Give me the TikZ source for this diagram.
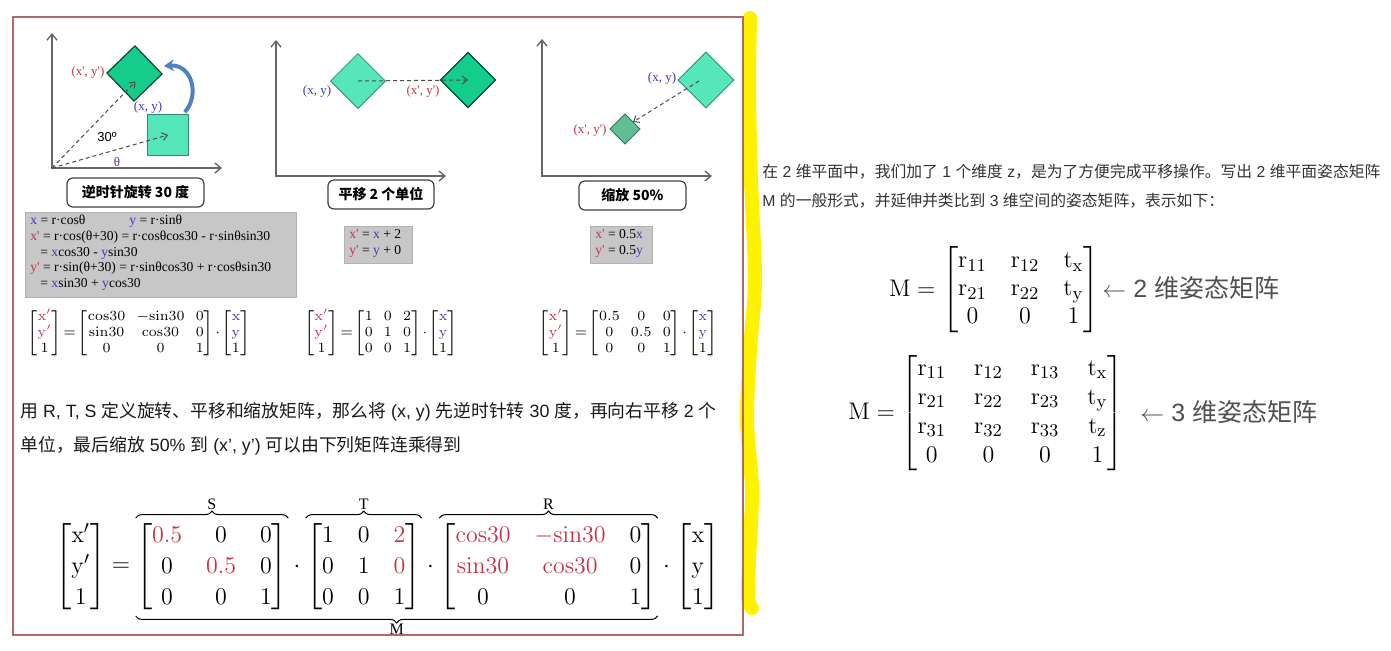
\documentclass[tikz,border=0pt]{standalone}
\usepackage{amsmath}
\usepackage[no-math]{fontspec}
\setmainfont{Liberation Sans}
\newfontfamily\cjk{Noto Sans CJK SC}
\newfontfamily\serif{Liberation Serif}
\usepackage{xcolor}
\usetikzlibrary{arrows.meta,calc,positioning,decorations.pathreplacing}
\definecolor{cred}{RGB}{200,50,70}
\definecolor{cblue}{RGB}{60,60,180}
\definecolor{sqlight}{RGB}{85,230,185}
\definecolor{sqdark}{RGB}{20,205,140}
\definecolor{sqsmall}{RGB}{95,190,150}
\definecolor{framecol}{RGB}{175,105,105}
\definecolor{arcblue}{RGB}{80,130,195}
\definecolor{txtgray}{RGB}{80,80,80}
\newcommand{\rd}[1]{{\color{cred}#1}}
\newcommand{\bl}[1]{{\color{cblue}#1}}
\tikzset{
  axes/.style={draw=black!60,line width=0.7pt,{Straight Barb[length=3pt,width=5pt]}-{Straight Barb[length=3pt,width=5pt]}},
  dasharr/.style={draw=black!70,dash pattern=on 2pt off 1.5pt,line width=0.5pt,-{Straight Barb[length=2.5pt,width=4pt]}},
  light/.style={fill=sqlight,draw=sqlight!60!black,line width=0.4pt,inner sep=0pt},
  dark/.style={fill=sqdark,draw=sqdark!35!black,line width=0.6pt,inner sep=0pt},
  caption/.style={draw=black!75,rounded corners=3pt,line width=0.6pt,font=\cjk\bfseries\fontsize{7}{8}\selectfont},
  graybox/.style={fill=black!22,draw=black!30,line width=0.3pt},
  lbl/.style={font=\serif\fontsize{6.5}{7}\selectfont,inner sep=0pt},
  boxtxt/.style={font=\serif\fontsize{6.8}{7.8}\selectfont,align=left,inner sep=0pt,anchor=north west},
  smallmat/.style={font=\fontsize{7.5}{8}\selectfont,inner sep=0pt,
    execute at begin node={\setlength{\arraycolsep}{2.8pt}\thickmuskip=2mu\medmuskip=1.5mu}},
  para/.style={font=\fontsize{8.9}{10}\selectfont,text=black!90,anchor=west,inner sep=0pt},
  bigm/.style={font=\fontsize{13}{15.5}\selectfont,inner sep=0pt,
    execute at begin node={\setlength{\arraycolsep}{6pt}}},
  brace/.style={decorate,decoration={brace,amplitude=3.5pt},line width=0.5pt},
  bracelbl/.style={font=\serif\fontsize{8}{9}\selectfont,inner sep=0pt},
  rmat/.style={font=\fontsize{12.5}{14}\selectfont,inner sep=0pt,anchor=east},
  rlbl/.style={font=\fontsize{12.5}{14}\selectfont,text=txtgray,anchor=west,inner sep=0pt},
}
\begin{document}
\begin{tikzpicture}[x=0.5pt,y=-0.5pt]
\useasboundingbox (0,0) rectangle (1391,650);
% highlighter and frame
\draw[yellow,line width=7pt,line cap=round,line join=round] plot[smooth] coordinates
  {(750,18) (749,90) (751,180) (755,280) (750,350) (747,420) (752,490) (749,560) (748,598) (752,608)};
\draw[framecol,line width=0.6pt] (13,17) rectangle (743,635);

% rotation
\coordinate (o1) at (52,168);
\draw[axes] (52,33) |- (222,168);
\node[light,minimum size=20.5pt] (src1) at (168,135) {};
\node[dark,minimum size=19.5pt,rotate=44] (dst1) at (134.5,73.5) {};
\draw[dasharr] (o1) -- (src1.center);
\draw[dasharr] (o1) -- ($(dst1.center)+(1,8)$);
\draw[arcblue,line width=2pt,-{Stealth[length=5pt,width=6pt]}] (src1.north east)++(-4,-2) .. controls (200,95) and (192,64) .. (164,66);
\node[lbl,text=cred] (p1) at (88,72) {(x', y')};
\node[lbl,text=cblue] (q1) at (148,107) {(x, y)};
\node[font=\fontsize{6.5}{7}\selectfont] (ang) at (107,137) {30º};
\node[lbl,text=cblue] (th) at (117,162) {θ};
\node[caption,minimum width=68.5pt,minimum height=14.5pt] (cap1) at (135.5,192.5) {逆时针旋转 30 度};

% translation
\draw[axes] (276,40) |- (446,176);
\node[light,minimum size=19.4pt,rotate=45] (src2) at (358,81) {};
\node[dark,minimum size=19.4pt,rotate=45] (dst2) at (468,80) {};
\draw[dasharr] (src2.center) -- (dst2.center);
\node[lbl,text=cblue] (q2) at (317,91) {(x, y)};
\node[lbl,text=cred] (p2) at (423,91) {(x', y')};
\node[caption,minimum width=53pt,minimum height=14.5pt] (cap2) at (381,194.5) {平移 2 个单位};

% scaling
\draw[axes] (542,39) |- (712,176);
\node[light,minimum size=19.8pt,rotate=45] (src3) at (706,80) {};
\node[fill=sqsmall,draw=sqsmall!60!black,line width=0.4pt,inner sep=0pt,minimum size=10.6pt,rotate=45] (dst3) at (625,129) {};
\draw[dasharr] ($(src3.center)+(-7,1)$) -- ($(dst3.center)+(8,-7)$);
\node[lbl,text=cblue] (q3) at (662,78) {(x, y)};
\node[lbl,text=cred] (p3) at (590,130) {(x', y')};
\node[caption,minimum width=53.5pt,minimum height=14.5pt] (cap3) at (632.5,195.5) {缩放 50\%};

% formulas
\draw[graybox] (25,212) rectangle (296,297);
\node[boxtxt] (f1) at (30,215) {\bl{x} = r·cosθ\hspace{22pt}\bl{y} = r·sinθ\\
\rd{x'} = r·cos(θ+30) = r·cosθcos30 - r·sinθsin30\\
\hspace*{5pt}= \bl{x}cos30 - \bl{y}sin30\\
\rd{y'} = r·sin(θ+30) = r·sinθcos30 + r·cosθsin30\\
\hspace*{5pt}= \bl{x}sin30 + \bl{y}cos30};
\draw[graybox] (344,226) rectangle (412,263);
\node[boxtxt] (f2) at (349,229) {\rd{x'} = \bl{x} + 2\\ \rd{y'} = \bl{y} + 0};
\draw[graybox] (590,226) rectangle (652,263);
\node[boxtxt] (f3) at (595,229) {\rd{x'} = 0.5\bl{x}\\ \rd{y'} = 0.5\bl{y}};

\node[smallmat] (mat1) at (139,333) {$\begin{bmatrix}\rd{\mathrm{x}'}\\\rd{\mathrm{y}'}\\1\end{bmatrix}=
\begin{bmatrix}\mathrm{cos30}&-\mathrm{sin30}&0\\\mathrm{sin30}&\mathrm{cos30}&0\\0&0&1\end{bmatrix}\cdot
\begin{bmatrix}\bl{\mathrm{x}}\\\bl{\mathrm{y}}\\1\end{bmatrix}$};
\node[smallmat] (mat2) at (381,333) {$\begin{bmatrix}\rd{\mathrm{x}'}\\\rd{\mathrm{y}'}\\1\end{bmatrix}=
\begin{bmatrix}1&0&2\\0&1&0\\0&0&1\end{bmatrix}\cdot
\begin{bmatrix}\bl{\mathrm{x}}\\\bl{\mathrm{y}}\\1\end{bmatrix}$};
\node[smallmat] (mat3) at (628,333) {$\begin{bmatrix}\rd{\mathrm{x}'}\\\rd{\mathrm{y}'}\\1\end{bmatrix}=
\begin{bmatrix}0.5&0&0\\0&0.5&0\\0&0&1\end{bmatrix}\cdot
\begin{bmatrix}\bl{\mathrm{x}}\\\bl{\mathrm{y}}\\1\end{bmatrix}$};

% paragraph
\node[para] (l1) at (20,412) {{\cjk 用} R, T, S {\cjk 定义旋转、平移和缩放矩阵，那么将} (x, y) {\cjk 先逆时针转} 30 {\cjk 度，再向右平移} 2 {\cjk 个}};
\node[para] (l2) at (20,446) {{\cjk 单位，最后缩放} 50\% {\cjk 到} (x', y') {\cjk 可以由下列矩阵连乘得到}};

% product M = S T R
\node[bigm,anchor=west] (vl) at (55,567) {$\begin{bmatrix}\mathrm{x}'\\\mathrm{y}'\\1\end{bmatrix}$};
\node[bigm,right=2.5pt of vl] (eqs) {$=$};
\node[bigm,right=2.5pt of eqs] (ms) {$\begin{bmatrix}\rd{0.5}&0&0\\0&\rd{0.5}&0\\0&0&1\end{bmatrix}$};
\node[bigm,right=2.5pt of ms] (d1) {$\cdot$};
\node[bigm,right=2.5pt of d1] (mt) {$\begin{bmatrix}1&0&\rd{2}\\0&1&\rd{0}\\0&0&1\end{bmatrix}$};
\node[bigm,right=2.5pt of mt] (d2) {$\cdot$};
\node[bigm,right=2.5pt of d2] (mr) {$\begin{bmatrix}\rd{\mathrm{cos30}}&\rd{-\mathrm{sin30}}&0\\\rd{\mathrm{sin30}}&\rd{\mathrm{cos30}}&0\\0&0&1\end{bmatrix}$};
\node[bigm,right=2.5pt of mr] (d3) {$\cdot$};
\node[bigm,right=2.5pt of d3] (vr) {$\begin{bmatrix}\mathrm{x}\\\mathrm{y}\\1\end{bmatrix}$};
\draw[brace] ([yshift=1pt]ms.north west) -- ([yshift=1pt]ms.north east) node[bracelbl,midway,above=4pt] (ls) {S};
\draw[brace] ([yshift=1pt]mt.north west) -- ([yshift=1pt]mt.north east) node[bracelbl,midway,above=4pt] (lt) {T};
\draw[brace] ([yshift=1pt]mr.north west) -- ([yshift=1pt]mr.north east) node[bracelbl,midway,above=4pt] (lr) {R};
\draw[brace] ([yshift=-1pt]mr.south east) -- ([yshift=-1pt]ms.south west) node[bracelbl,midway,below=4pt] (lm) {M};

% right column
\node[para,font=\fontsize{7.9}{9}\selectfont,text=black!80] (r1) at (762,172) {{\cjk 在} 2 {\cjk 维平面中，我们加了} 1 {\cjk 个维度} z{\cjk ，是为了方便完成平移操作。写出} 2 {\cjk 维平面姿态矩阵}};
\node[para,font=\fontsize{7.9}{9}\selectfont,text=black!80] (r2) at (762,201) {M {\cjk 的一般形式，并延伸并类比到} 3 {\cjk 维空间的姿态矩阵，表示如下：}};

\node[rmat,execute at begin node={\setlength{\arraycolsep}{6pt}}] (mm2) at (1100,290) {$\mathrm{M}=\begin{bmatrix}\mathrm{r}_{11}&\mathrm{r}_{12}&\mathrm{t}_{\mathrm{x}}\\\mathrm{r}_{21}&\mathrm{r}_{22}&\mathrm{t}_{\mathrm{y}}\\0&0&1\end{bmatrix}$};
\node[rlbl] (n2) at (1102,288) {$\leftarrow$ 2 {\cjk 维姿态矩阵}};
\node[rmat,font=\fontsize{12.5}{14.5}\selectfont,execute at begin node={\setlength{\arraycolsep}{7pt}}] (mm3) at (1124,413) {$\mathrm{M}=\begin{bmatrix}\mathrm{r}_{11}&\mathrm{r}_{12}&\mathrm{r}_{13}&\mathrm{t}_{\mathrm{x}}\\\mathrm{r}_{21}&\mathrm{r}_{22}&\mathrm{r}_{23}&\mathrm{t}_{\mathrm{y}}\\\mathrm{r}_{31}&\mathrm{r}_{32}&\mathrm{r}_{33}&\mathrm{t}_{\mathrm{z}}\\0&0&0&1\end{bmatrix}$};
\node[rlbl] (n3) at (1140,412) {$\leftarrow$ 3 {\cjk 维姿态矩阵}};
\end{tikzpicture}
\end{document}
